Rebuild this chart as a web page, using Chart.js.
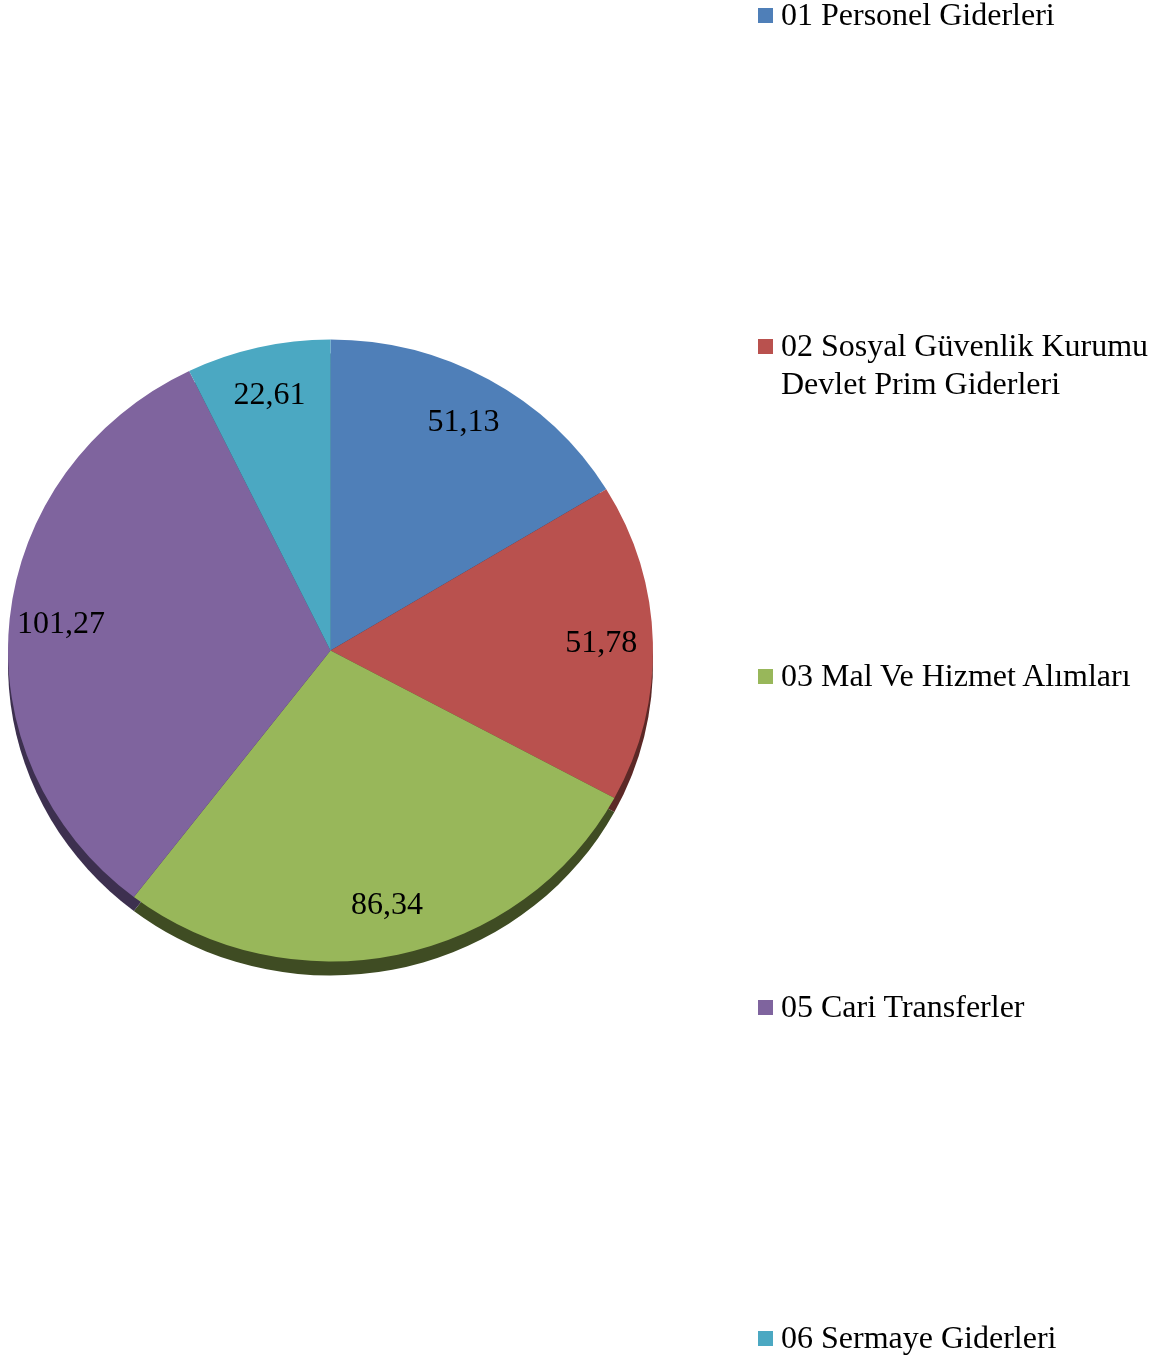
<!DOCTYPE html>
<html>
<head>
<meta charset="utf-8">
<script src="https://cdn.jsdelivr.net/npm/chart.js@4/dist/chart.umd.min.js"></script>
<style>
  html, body { margin: 0; padding: 0; background: #ffffff; }
  #wrap { position: relative; width: 1170px; height: 1360px; overflow: hidden; }
  #c { position: absolute; left: 0; top: 0; }
  #legend { position: absolute; left: 0; top: 0; width: 1170px; height: 1360px; pointer-events: none;
            font-family: "Liberation Serif", "Times New Roman", serif; font-size: 32px; line-height: 38px; color: #000; }
  .item { position: absolute; left: 758px; width: 410px; }
  .sw { position: absolute; left: 0; top: 13px; width: 15px; height: 15px; }
  .tx { position: absolute; left: 23px; width: 385px; white-space: normal; }
</style>
</head>
<body>
<div id="wrap">
  <canvas id="c" width="1170" height="1360"></canvas>
  <div id="legend"></div>
</div>
<script>
const categories = [
  "01 Personel Giderleri",
  "02 Sosyal Güvenlik Kurumu Devlet Prim Giderleri",
  "03 Mal Ve Hizmet Alımları",
  "05 Cari Transferler",
  "06 Sermaye Giderleri"
];
const values = [51.13, 51.78, 86.34, 101.27, 22.61];
const valueLabels = ["51,13", "51,78", "86,34", "101,27", "22,61"];
const colors = ["#4F7FB8", "#B9514E", "#98B75A", "#7F649E", "#4BA8C2"];
const shadowColors = ["#23395A", "#5C2826", "#3F4C23", "#3D304F", "#245360"];

const Y_SCALE = 311 / 322.5;
const DEPTH = 14;

const ellipsePlugin = {
  id: 'ellipse3d',
  beforeDatasetsDraw(chart) {
    const ctx = chart.ctx;
    const meta = chart.getDatasetMeta(0);
    const a0 = meta.data[0];
    const cx = a0.x, cy = a0.y;
    ctx.save();
    ctx.save();
    ctx.translate(cx, cy + DEPTH);
    ctx.scale(1, Y_SCALE);
    meta.data.forEach((arc, i) => {
      ctx.beginPath();
      ctx.moveTo(0, 0);
      ctx.arc(0, 0, arc.outerRadius, arc.startAngle, arc.endAngle);
      ctx.closePath();
      ctx.fillStyle = shadowColors[i];
      ctx.fill();
    });
    ctx.restore();
    ctx.translate(cx, cy);
    ctx.scale(1, Y_SCALE);
    ctx.translate(-cx, -cy);
  },
  afterDatasetsDraw(chart) {
    const ctx = chart.ctx;
    ctx.restore();
    const meta = chart.getDatasetMeta(0);
    ctx.save();
    ctx.font = '32px "Liberation Serif", "Times New Roman", serif';
    ctx.fillStyle = '#000';
    ctx.textAlign = 'center';
    ctx.textBaseline = 'middle';
    meta.data.forEach((arc, i) => {
      const mid = (arc.startAngle + arc.endAngle) / 2;
      const r = arc.outerRadius * 0.84;
      const x = arc.x + Math.cos(mid) * r;
      const y = arc.y + Math.sin(mid) * r * Y_SCALE;
      ctx.fillText(valueLabels[i], x, y);
    });
    ctx.restore();
  }
};

new Chart(document.getElementById('c'), {
  type: 'pie',
  data: {
    labels: categories,
    datasets: [{
      data: values,
      backgroundColor: colors,
      borderColor: colors,
      borderWidth: 0
    }]
  },
  options: {
    responsive: false,
    animation: false,
    layout: { padding: { left: 8, right: 517, top: 328, bottom: 387 } },
    plugins: { legend: { display: false }, tooltip: { enabled: false } }
  },
  plugins: [ellipsePlugin]
});

const legend = document.getElementById('legend');
categories.forEach((name, i) => {
  const item = document.createElement('div');
  item.className = 'item';
  item.style.top = (-5 + i * 330.7) + 'px';
  const sw = document.createElement('div');
  sw.className = 'sw';
  sw.style.background = colors[i];
  const tx = document.createElement('div');
  tx.className = 'tx';
  tx.textContent = name;
  item.appendChild(sw);
  item.appendChild(tx);
  legend.appendChild(item);
});
</script>
</body>
</html>
